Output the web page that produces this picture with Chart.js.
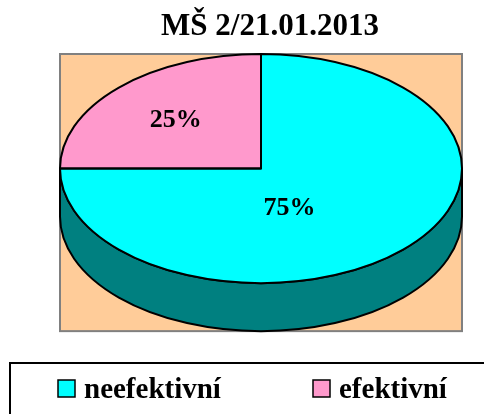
<!DOCTYPE html>
<html>
<head>
<meta charset="utf-8">
<script src="https://cdn.jsdelivr.net/npm/chart.js@4/dist/chart.umd.min.js"></script>
<style>
  html, body { margin: 0; padding: 0; background: #fff; }
</style>
</head>
<body>
<canvas id="pie" width="484" height="414"></canvas>
<script>
var chartTitle = "MŠ 2/21.01.2013";
var labels = ["neefektivní", "efektivní"];
var shares = [75, 25];
var topColors = ["#00FFFF", "#FF99CC"];
var sideColors = ["#008080", "#993366"];

var serif = "'Liberation Serif', 'Times New Roman', serif";

// fakes the excel 3d pie: squash the chart.js arcs and add a wall under them
var pie3d = {
  id: "pie3d",
  geom: function (chart) {
    var o = chart.options.plugins.pie3d;
    var arcs = chart.getDatasetMeta(0).data;
    var R = arcs[0].outerRadius;
    return {
      arcs: arcs, R: R, k: o.ratio, d: o.depth,
      cx: o.centerX, cy: o.top + R * o.ratio,
      ox: arcs[0].x, oy: arcs[0].y
    };
  },
  beforeDatasetsDraw: function (chart) {
    var ctx = chart.ctx;
    var g = this.geom(chart);

    // plot area
    ctx.save();
    ctx.fillStyle = "#FFCC99";
    ctx.fillRect(g.cx - g.R, g.cy - g.R * g.k, 2 * g.R, 2 * g.R * g.k + g.d);
    ctx.strokeStyle = "#808080";
    ctx.lineWidth = 2;
    ctx.strokeRect(g.cx - g.R, g.cy - g.R * g.k, 2 * g.R, 2 * g.R * g.k + g.d);
    ctx.restore();

    // side walls, only the front half shows
    g.arcs.forEach(function (arc, i) {
      var s = Math.max(arc.startAngle, 0);
      var e = Math.min(arc.endAngle, Math.PI);
      if (e <= s) return;
      ctx.save();
      ctx.translate(g.cx, g.cy);
      ctx.scale(1, g.k);
      ctx.beginPath();
      ctx.arc(0, 0, g.R, s, e, false);
      ctx.arc(0, g.d / g.k, g.R, e, s, true);
      ctx.closePath();
      ctx.restore();
      ctx.save();
      ctx.fillStyle = sideColors[i];
      ctx.fill();
      ctx.lineWidth = 2;
      ctx.lineJoin = "round";
      ctx.strokeStyle = "#000";
      ctx.stroke();
      ctx.restore();
    });

    ctx.save();
    ctx.translate(g.cx, g.cy);
    ctx.scale(1, g.k);
    ctx.translate(-g.ox, -g.oy);
  },
  afterDatasetsDraw: function (chart) {
    var ctx = chart.ctx;
    ctx.restore();
    var g = this.geom(chart);
    var data = chart.data.datasets[0].data;
    var total = data.reduce(function (a, b) { return a + b; }, 0);

    g.arcs.forEach(function (arc) {
      ctx.save();
      ctx.translate(g.cx, g.cy);
      ctx.scale(1, g.k);
      ctx.beginPath();
      ctx.moveTo(0, 0);
      ctx.arc(0, 0, g.R, arc.startAngle, arc.endAngle, false);
      ctx.closePath();
      ctx.restore();
      ctx.save();
      ctx.lineWidth = 2;
      ctx.lineJoin = "round";
      ctx.strokeStyle = "#000";
      ctx.stroke();
      ctx.restore();
    });

    ctx.save();
    ctx.font = "bold 26px " + serif;
    ctx.fillStyle = "#000";
    ctx.textAlign = "center";
    ctx.textBaseline = "middle";
    g.arcs.forEach(function (arc, i) {
      var half = (arc.endAngle - arc.startAngle) / 2;
      var mid = arc.startAngle + half;
      var f = (2 / 3) * Math.sin(half) / half;
      var x = g.cx + Math.cos(mid) * g.R * f;
      var y = g.cy + Math.sin(mid) * g.R * g.k * f + (Math.sin(mid) > 0 ? g.d / 2 : 0);
      ctx.fillText(Math.round(data[i] / total * 100) + "%", x, y);
    });
    ctx.restore();
  },
  afterDraw: function (chart) {
    var ctx = chart.ctx;
    var itemX = [58, 313];
    ctx.save();
    ctx.lineWidth = 2;
    ctx.strokeStyle = "#000";
    ctx.strokeRect(10, 363, 520, 120);
    ctx.font = "bold 29px " + serif;
    ctx.textBaseline = "alphabetic";
    chart.data.labels.forEach(function (lab, i) {
      var ds = chart.data.datasets[0];
      ctx.fillStyle = ds.backgroundColor[i];
      ctx.fillRect(itemX[i], 380, 17, 17);
      ctx.lineWidth = 1.5;
      ctx.strokeRect(itemX[i], 380, 17, 17);
      ctx.fillStyle = "#000";
      ctx.fillText(lab, itemX[i] + 26, 398);
    });
    ctx.restore();
  }
};

new Chart(document.getElementById("pie").getContext("2d"), {
  type: "pie",
  data: {
    labels: labels,
    datasets: [
      {
        data: shares,
        backgroundColor: topColors,
        borderWidth: 0,
        clip: false
      }
    ]
  },
  options: {
    responsive: false,
    animation: false,
    radius: 201,
    layout: { padding: { left: 56, right: 0, top: 0, bottom: 0 } },
    plugins: {
      legend: { display: false },
      tooltip: { enabled: false },
      title: {
        display: true,
        text: chartTitle,
        color: "#000",
        font: { family: serif, size: 31, weight: "bold" },
        padding: { top: 8, bottom: 0 }
      },
      pie3d: { centerX: 261, top: 54, ratio: 0.57, depth: 48 }
    }
  },
  plugins: [pie3d]
});
</script>
</body>
</html>
